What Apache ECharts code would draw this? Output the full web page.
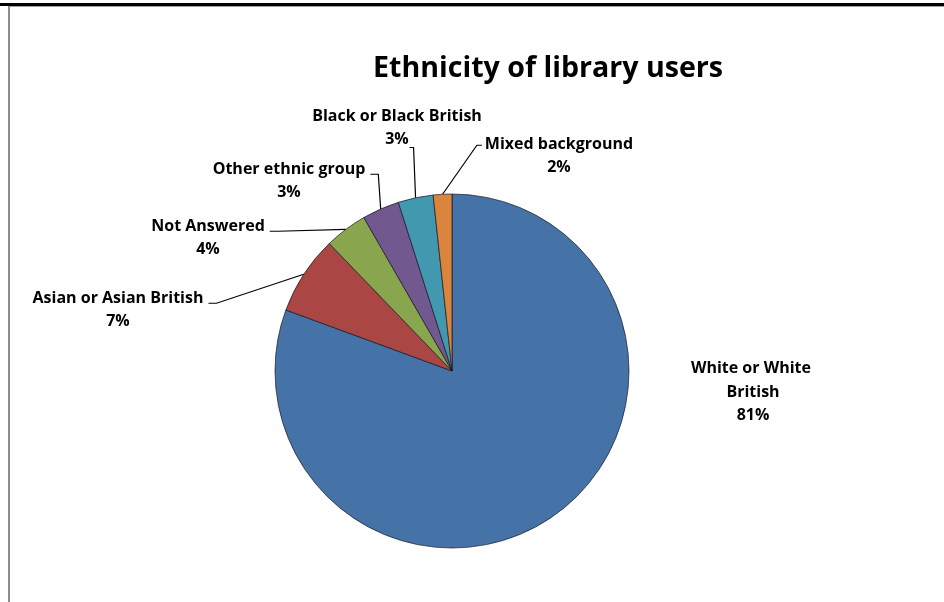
<!DOCTYPE html>
<html>
<head>
<meta charset="utf-8">
<script src="https://cdn.jsdelivr.net/npm/echarts@6/dist/echarts.min.js"></script>
<style>
  html, body { margin: 0; padding: 0; background: #fff; }
  #wrap { position: relative; width: 944px; height: 602px; overflow: hidden; }
  #topbar { position: absolute; left: 0; top: 3px; width: 944px; height: 3px; background: #000; }
  #frame { position: absolute; left: 8px; top: 6px; width: 936px; height: 596px;
           border-left: 2px solid #8c8c8c; border-top: 1px solid #a0a0a0; box-sizing: border-box; }
  #chart { position: absolute; left: 0; top: 0; width: 944px; height: 602px; }
</style>
</head>
<body>
<div id="wrap">
  <div id="topbar"></div>
  <div id="frame"></div>
  <div id="chart"></div>
</div>
<script>
// ---- data ----
var categories = ['White or White British', 'Asian or Asian British', 'Not Answered',
                  'Other ethnic group', 'Black or Black British', 'Mixed background'];
var values = [80.6, 7.2, 3.9, 3.4, 3.2, 1.7];
var colors = ['#4572A7', '#AA4643', '#89A54E', '#71588F', '#4198AF', '#DB843D'];
var titleText = 'Ethnicity of library users';

// ---- label layout (label block centres in px, and which side the leader line attaches) ----
var labelCentres = [[753, 392], [118, 310], [208, 238], [289, 181], [397, 128], [559, 156]];
var lineSide = ['none', 'left', 'left', 'left', 'top', 'right'];

var FONT = '"Open Sans", sans-serif';
var LH = 23.5;

var chart = echarts.init(document.getElementById('chart'), null, { renderer: 'canvas' });

var seriesData = categories.map(function (c, i) {
  var item = { name: c, value: values[i], itemStyle: { color: colors[i] } };
  if (i === 0) {
    item.label = { width: 140, overflow: 'break' };
    item.labelLine = { show: false };
  }
  return item;
});

chart.setOption({
  animation: false,
  title: {
    text: titleText,
    left: 373,
    top: 54,
    padding: 0,
    textStyle: { fontFamily: FONT, fontSize: 28.6, fontWeight: 'bold', color: '#000' }
  },
  series: [{
    type: 'pie',
    center: [452, 371],
    radius: 177,
    startAngle: 90,
    clockwise: true,
    avoidLabelOverlap: false,
    data: seriesData,
    itemStyle: { borderColor: 'rgba(20,20,30,0.85)', borderWidth: 0.8 },
    label: {
      show: true,
      position: 'outside',
      formatter: '{b}\n{d}%',
      fontFamily: FONT,
      fontSize: 16,
      fontWeight: 'bold',
      lineHeight: LH,
      color: '#000',
      align: 'center'
    },
    percentPrecision: 0,
    labelLine: { show: true, length: 10, length2: 10, smooth: false,
                 lineStyle: { color: '#000', width: 1.2 } },
    labelLayout: function (p) {
      var i = p.dataIndex;
      var c = labelCentres[i];
      var w = p.labelRect.width, h = p.labelRect.height;
      var left = c[0] - w / 2, right = c[0] + w / 2, top = c[1] - h / 2, bottom = c[1] + h / 2;
      var line1 = top + LH / 2;
      var res = { x: c[0], y: c[1], align: 'center', verticalAlign: 'middle' };
      var a = p.labelLinePoints ? p.labelLinePoints[0] : null;
      if (a) {
        var side = lineSide[i];
        if (side === 'left') {
          var e = [right + 5, line1 + 5];
          res.labelLinePoints = [a, [e[0] + 8, e[1]], e];
        } else if (side === 'right') {
          var e2 = [left - 3, line1 + 1];
          res.labelLinePoints = [a, [e2[0] - 5, e2[1]], e2];
        } else if (side === 'top') {
          res.labelLinePoints = [a, [a[0] - 2, bottom - 4], [a[0] - 6, bottom - 4]];
        }
      }
      return res;
    }
  }]
});
</script>
</body>
</html>
